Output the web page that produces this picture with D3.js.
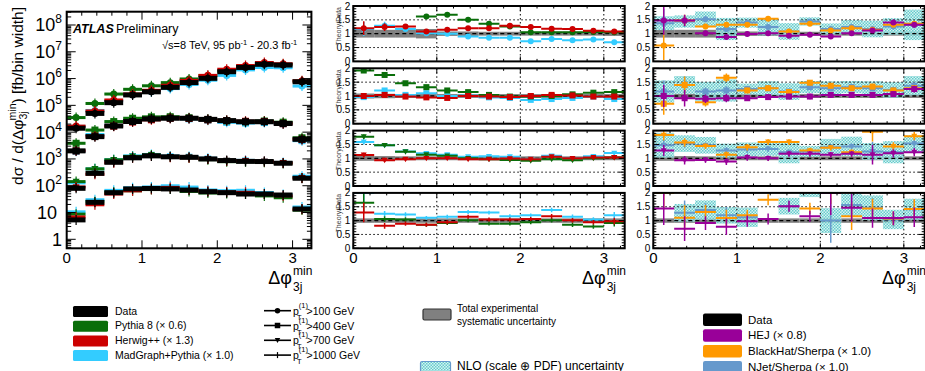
<!DOCTYPE html>
<html>
<head>
<meta charset="utf-8">
<title>Delta phi 3j min</title>
<script src="https://d3js.org/d3.v7.min.js"></script>
<style>
  body { margin: 0; background: #fff; }
  svg { font-family: "Liberation Sans", Arial, Helvetica, sans-serif; }
</style>
</head>
<body>
<div id="chart"></div>
<script>
// ---- data ----
const binCentres = [0.125, 0.375, 0.625, 0.875, 1.125, 1.375, 1.625, 1.875, 2.125, 2.375, 2.625, 2.875, 3.125];
const binHalf = 0.125;

const ptLabels = ["100", "400", "700", "1000"];
const ptShapes = ["circle", "square", "triangle", "plus"];

// measured cross sections [fb/bin width], one row per pT cut
const dataXs = [
  [1.4e4, 5.0e4, 1.26e5, 2.45e5, 3.2e5, 4.7e5, 7.1e5, 1.02e6, 1.8e6, 2.6e6, 3.4e6, 3.2e6, 7.6e5],
  [2.0e3, 6.8e3, 1.7e4, 2.5e4, 3.1e4, 3.3e4, 3.3e4, 3.0e4, 2.7e4, 2.45e4, 2.45e4, 2.1e4, 5.4e3],
  [80, 290, 750, 1100, 1300, 1200, 1150, 1000, 870, 810, 800, 690, 190],
  [5.3, 24, 55, 76, 79, 76, 69, 60, 55, 49, 49, 45, 13.5]
];

// Theory/Data, LO generators (already scaled)
const pythiaRatio = [
  [2.5, 2.35, 2.1, 1.62, 1.68, 1.5, 1.36, 1.26, 1.05, 1.05, 1.05, 1.06, 1.05],
  [1.92, 1.76, 1.46, 1.32, 1.2, 1.14, 1.04, 0.98, 0.98, 1.0, 1.06, 1.12, 1.14],
  [1.78, 1.47, 1.24, 1.13, 1.09, 1.0, 0.97, 0.94, 0.91, 0.97, 0.93, 1.0, 1.03],
  [1.64, 1.06, 1.04, 0.85, 0.91, 1.01, 0.89, 0.89, 0.94, 1.01, 0.85, 0.79, 0.91]
];
const herwigRatio = [
  [1.2, 1.24, 1.26, 1.08, 1.14, 1.2, 1.2, 1.29, 1.24, 1.18, 1.17, 1.11, 1.08],
  [1.0, 1.04, 0.98, 0.95, 0.93, 1.0, 0.98, 0.96, 1.0, 1.04, 1.02, 0.98, 0.98],
  [1.12, 0.93, 0.97, 1.0, 1.0, 0.97, 0.97, 0.99, 0.97, 1.06, 1.0, 1.03, 1.03],
  [1.29, 0.81, 0.89, 0.85, 0.94, 1.14, 1.04, 1.04, 1.06, 1.16, 1.01, 0.94, 0.98]
];
const madgraphRatio = [
  [1.17, 1.29, 1.17, 1.02, 1.0, 0.9, 0.85, 0.85, 0.73, 0.81, 0.76, 0.79, 0.69],
  [0.96, 1.2, 1.04, 1.1, 1.0, 1.02, 0.95, 0.93, 0.86, 0.89, 0.93, 0.98, 0.89],
  [1.59, 1.47, 1.25, 1.18, 1.13, 1.06, 1.07, 1.06, 0.97, 1.09, 1.0, 1.07, 1.19],
  [2.0, 1.25, 1.22, 1.1, 1.14, 1.31, 1.29, 1.16, 1.19, 1.38, 1.14, 1.04, 1.19]
];
const mcStatErr = [
  [0.25, 0.14, 0.05, 0.03, 0.03, 0.02, 0.02, 0.02, 0.02, 0.02, 0.02, 0.02, 0.03],
  [0.06, 0.06, 0.04, 0.04, 0.03, 0.03, 0.03, 0.03, 0.03, 0.03, 0.03, 0.03, 0.04],
  [0.08, 0.06, 0.05, 0.04, 0.04, 0.04, 0.04, 0.04, 0.04, 0.05, 0.05, 0.05, 0.06],
  [0.35, 0.1, 0.08, 0.07, 0.07, 0.07, 0.07, 0.07, 0.07, 0.08, 0.08, 0.08, 0.12]
];

// total experimental systematic (half width around 1)
const systUnc = [
  [0.14, 0.14, 0.14, 0.17, 0.08, 0.08, 0.07, 0.07, 0.07, 0.07, 0.07, 0.07, 0.08],
  [0.09, 0.08, 0.07, 0.07, 0.07, 0.07, 0.07, 0.07, 0.07, 0.07, 0.07, 0.07, 0.07],
  [0.09, 0.08, 0.07, 0.07, 0.07, 0.07, 0.07, 0.07, 0.07, 0.07, 0.07, 0.07, 0.07],
  [0.08, 0.08, 0.08, 0.08, 0.08, 0.08, 0.08, 0.08, 0.08, 0.08, 0.08, 0.08, 0.08]
];

// Theory/Data, NLO
const hejRatio = [
  [1.48, 1.48, 1.02, 0.88, 0.99, 1.02, 0.93, 0.96, 0.9, 1.02, 1.12, 1.4, 1.32],
  [1.0, 0.92, 0.9, 0.92, 0.92, 0.96, 0.98, 0.98, 1.04, 1.04, 1.04, 1.07, 1.25],
  [1.28, 0.93, 0.94, 0.88, 1.03, 1.0, 1.16, 1.16, 1.13, 1.16, 1.13, 1.18, 1.22],
  [1.44, 0.71, 0.91, 0.78, 0.98, 1.06, 1.52, 1.16, 2.0, 1.46, 1.09, 1.09, 1.12]
];
const blackhatRatio = [
  [0.57, 1.48, 1.26, 1.32, 1.32, 1.54, 1.08, 1.36, 1.12, 1.2, 1.14, 1.32, 1.36],
  [0.72, 1.4, 0.77, 1.66, 1.2, 1.28, 1.14, 1.48, 1.37, 1.28, 1.34, 1.2, 1.28],
  [1.84, 1.57, 1.44, 1.13, 1.4, 1.59, 1.59, 1.28, 1.38, 1.22, 1.96, 1.43, 1.8],
  [2.0, 1.1, 1.31, 1.09, 1.19, 1.75, 2.3, 1.44, 2.4, 1.16, 1.44, 1.08, 1.42]
];
const njetRatio = [
  [1.38, 1.44, 1.52, 1.17, 1.4, 1.24, 1.08, 1.44, 1.17, 1.24, 1.17, 1.26, 1.32],
  [1.16, 1.4, 1.16, 1.2, 1.25, 1.28, 1.16, 1.32, 1.28, 1.32, 1.28, 1.22, 1.37],
  [1.47, 1.53, 1.47, 1.28, 1.32, 1.34, 1.22, 1.25, 1.4, 1.43, 1.25, 1.22, 1.53],
  [2.5, 1.28, 1.38, 1.19, 1.12, 2.6, 1.52, 2.2, 1.0, 1.56, 1.46, 1.04, 1.41]
];
const nloStatErr = [
  [0.52, 0.2, 0.1, 0.08, 0.08, 0.06, 0.08, 0.06, 0.06, 0.06, 0.06, 0.06, 0.1],
  [0.4, 0.3, 0.15, 0.15, 0.1, 0.1, 0.1, 0.1, 0.1, 0.1, 0.1, 0.1, 0.12],
  [0.2, 0.15, 0.1, 0.12, 0.12, 0.1, 0.1, 0.1, 0.1, 0.1, 0.35, 0.15, 0.15],
  [0.6, 0.45, 0.25, 0.3, 0.2, 0.2, 0.2, 0.2, 0.8, 0.5, 0.35, 0.25, 0.35]
];
// NLO scale+PDF band half width around NJet
const nloUnc = [
  [0.25, 0.22, 0.28, 0.4, 0.18, 0.3, 0.3, 0.15, 0.2, 0.25, 0.3, 0.3, 0.55],
  [0.4, 0.32, 0.35, 0.4, 0.2, 0.25, 0.3, 0.22, 0.25, 0.22, 0.25, 0.28, 0.35],
  [0.45, 0.3, 0.3, 0.25, 0.25, 0.25, 0.4, 0.2, 0.3, 0.35, 0.3, 0.4, 0.3],
  [0.3, 0.32, 0.35, 0.3, 0.35, 0.3, 0.3, 0.35, 0.45, 0.4, 0.45, 0.35, 0.38]
];

const xTickLabels = ["0", "1", "2", "3"];
const ratioTickLabels = ["0", "0.5", "1", "1.5", "2"];

// ---- styles ----
const colData = "#000000", colPythia = "#0a6e0a", colHerwig = "#cc0000", colMadgraph = "#33ccff";
const colHej = "#990099", colBlackhat = "#ff9900", colNjet = "#6699cc", colSyst = "#808080";

const W = 925, H = 371;
const svg = d3.select("#chart").append("svg").attr("width", W).attr("height", H);

const defs = svg.append("defs");
const pat = defs.append("pattern").attr("id", "nlohatch").attr("patternUnits", "userSpaceOnUse")
  .attr("width", 3).attr("height", 3);
pat.append("rect").attr("width", 3).attr("height", 3).attr("fill", "#c8eeee").attr("opacity", 0.75);
pat.append("rect").attr("width", 1.5).attr("height", 1.5).attr("fill", "#66cccc");
pat.append("rect").attr("x", 1.5).attr("y", 1.5).attr("width", 1.5).attr("height", 1.5).attr("fill", "#66cccc");

// ---- helpers ----
function marker(g, shape, cx, cy, s, col) {
  if (shape === "circle") {
    g.append("circle").attr("cx", cx).attr("cy", cy).attr("r", s / 2).attr("fill", col);
  } else if (shape === "square") {
    g.append("rect").attr("x", cx - s / 2).attr("y", cy - s / 2).attr("width", s).attr("height", s).attr("fill", col);
  } else if (shape === "triangle") {
    g.append("path").attr("d", `M${cx - s / 2},${cy - s * 0.4}L${cx + s / 2},${cy - s * 0.4}L${cx},${cy + s * 0.5}Z`)
      .attr("fill", col);
  }
}

function frame(g, xs, ys, xMaj, xMin, yMaj, yMin, len) {
  const [x0, x1] = xs.range();
  const [y1, y0] = ys.range();
  const t = g.append("g").attr("stroke", "#000").attr("stroke-width", 1);
  xMaj.forEach(v => {
    t.append("line").attr("x1", xs(v)).attr("x2", xs(v)).attr("y1", y1).attr("y2", y1 - len.xMaj);
    t.append("line").attr("x1", xs(v)).attr("x2", xs(v)).attr("y1", y0).attr("y2", y0 + len.xMaj);
  });
  xMin.forEach(v => {
    t.append("line").attr("x1", xs(v)).attr("x2", xs(v)).attr("y1", y1).attr("y2", y1 - len.xMin);
    t.append("line").attr("x1", xs(v)).attr("x2", xs(v)).attr("y1", y0).attr("y2", y0 + len.xMin);
  });
  yMaj.forEach(v => {
    t.append("line").attr("x1", x0).attr("x2", x0 + len.yMaj).attr("y1", ys(v)).attr("y2", ys(v));
    t.append("line").attr("x1", x1).attr("x2", x1 - len.yMaj).attr("y1", ys(v)).attr("y2", ys(v));
  });
  yMin.forEach(v => {
    t.append("line").attr("x1", x0).attr("x2", x0 + len.yMin).attr("y1", ys(v)).attr("y2", ys(v));
    t.append("line").attr("x1", x1).attr("x2", x1 - len.yMin).attr("y1", ys(v)).attr("y2", ys(v));
  });
  g.append("rect").attr("x", x0).attr("y", y0).attr("width", x1 - x0).attr("height", y1 - y0)
    .attr("fill", "none").attr("stroke", "#000").attr("stroke-width", 2);
}

function phiTitle(g, xRight, y) {
  // "Δφ" with stacked superscript "min" and subscript "3j", right aligned at xRight
  const supW = 20;
  const t = g.append("text").attr("x", xRight - supW).attr("y", y).attr("text-anchor", "end")
    .attr("font-size", 18).text("\u0394\u03c6");
  g.append("text").attr("x", xRight - supW + 1).attr("y", y - 9).attr("font-size", 12).text("min");
  g.append("text").attr("x", xRight - supW + 1).attr("y", y + 7).attr("font-size", 12).text("3j");
  return t;
}

const xMinorVals = d3.range(0, 3.25, 0.2).filter(v => Math.abs(v - Math.round(v)) > 1e-6);
const xMajorVals = xTickLabels.map(Number);

// ---- main (log) panel ----
const main = { x0: 66.7, x1: 311.4, y0: 11.7, y1: 248.3 };
const xMain = d3.scaleLinear().domain([0, 3.25]).range([main.x0, main.x1]);
const yMain = d3.scaleLog().domain([Math.pow(10, -0.336), Math.pow(10, 8.496)]).range([main.y1, main.y0]);

const gMain = svg.append("g");
const mainClip = defs.append("clipPath").attr("id", "clipMain");
mainClip.append("rect").attr("x", main.x0).attr("y", main.y0).attr("width", main.x1 - main.x0).attr("height", main.y1 - main.y0);
const gMainPts = gMain.append("g").attr("clip-path", "url(#clipMain)");

const mainSeries = [
  { ratio: madgraphRatio, col: colMadgraph },
  { ratio: pythiaRatio, col: colPythia },
  { ratio: herwigRatio, col: colHerwig },
  { ratio: null, col: colData }
];
dataXs.forEach((row, k) => {
  mainSeries.forEach(s => {
    row.forEach((v, i) => {
      const val = s.ratio ? v * s.ratio[k][i] : v;
      const cx = xMain(binCentres[i]), cy = yMain(val);
      gMainPts.append("rect")
        .attr("x", xMain(binCentres[i] - binHalf)).attr("y", cy - (s.ratio ? 1.5 : 2.5))
        .attr("width", xMain(binCentres[i] + binHalf) - xMain(binCentres[i] - binHalf))
        .attr("height", s.ratio ? 3 : 5).attr("fill", s.col);
      gMainPts.append("line").attr("x1", cx).attr("x2", cx).attr("y1", cy - 5).attr("y2", cy + 5)
        .attr("stroke", s.col).attr("stroke-width", 1.2);
      marker(gMainPts, ptShapes[k], cx, cy, ptShapes[k] === "circle" ? 7 : 7, s.col);
    });
  });
});

const yMajMain = d3.range(0, 9).map(e => Math.pow(10, e));
const yMinMain = [];
for (let e = -1; e <= 8; e++) for (let m = 2; m <= 9; m++) {
  const v = m * Math.pow(10, e);
  if (v > yMain.domain()[0] && v < yMain.domain()[1]) yMinMain.push(v);
}
frame(gMain, xMain, yMain, xMajorVals, xMinorVals, yMajMain, yMinMain, { xMaj: 8, xMin: 4, yMaj: 9, yMin: 4.5 });

yMajMain.forEach((v, e) => {
  const t = gMain.append("text").attr("x", 62).attr("y", yMain(v) + 6.5).attr("text-anchor", "end")
    .attr("font-size", 18);
  if (e === 0) t.text("1");
  else if (e === 1) { t.attr("x", 57).text("10"); }
  else {
    t.append("tspan").text("10");
    t.append("tspan").attr("font-size", 12).attr("dy", -8).text(String(e));
  }
});
xTickLabels.forEach(l => {
  gMain.append("text").attr("x", xMain(+l)).attr("y", 263).attr("text-anchor", "middle")
    .attr("font-size", 15).text(l);
});
phiTitle(gMain, 312, 284);

// y axis title
const yt = gMain.append("text").attr("transform", "translate(23,7) rotate(-90)")
  .attr("text-anchor", "end").attr("font-size", 15.5);
yt.append("tspan").text("d\u03c3 / d(\u0394\u03c6");
yt.append("tspan").attr("font-size", 10.5).attr("dy", 4).text("3j");
yt.append("tspan").attr("font-size", 10.5).attr("dx", -9).attr("dy", -11).text("min");
yt.append("tspan").attr("dy", 7).text(") [fb/bin width]");

gMain.append("text").attr("x", 73).attr("y", 33).attr("font-size", 12.5)
  .attr("font-weight", "bold").attr("font-style", "italic").text("ATLAS");
gMain.append("text").attr("x", 116).attr("y", 33).attr("font-size", 12.5).text("Preliminary");
const en = gMain.append("text").attr("x", 162).attr("y", 48.5).attr("font-size", 11);
en.append("tspan").text("\u221as=8 TeV, 95 pb");
en.append("tspan").attr("font-size", 7.5).attr("dy", -4).text("-1");
en.append("tspan").attr("dy", 4).text(" - 20.3 fb");
en.append("tspan").attr("font-size", 7.5).attr("dy", -4).text("-1");

// ---- ratio panels ----
const ratioTops = [6, 68.3, 130.6, 192.9];
const ratioH = 55.4;
const yMajRatio = ratioTickLabels.map(Number);
const yMinRatio = d3.range(0, 2.001, 0.1).filter(v => Math.abs(v * 2 - Math.round(v * 2)) > 1e-6);

function ratioPanel(id, x0, x1, k, series, withNlo, withTitle) {
  const top = ratioTops[k];
  const xs = d3.scaleLinear().domain([0, 3.25]).range([x0, x1]);
  const ys = d3.scaleLinear().domain([0, 2]).range([top + ratioH, top]);
  const g = svg.append("g");
  defs.append("clipPath").attr("id", id).append("rect")
    .attr("x", x0).attr("y", top).attr("width", x1 - x0).attr("height", ratioH);
  const gc = g.append("g").attr("clip-path", `url(#${id})`);

  // experimental systematic band
  binCentres.forEach((c, i) => {
    gc.append("rect").attr("x", xs(c - binHalf)).attr("width", xs(c + binHalf) - xs(c - binHalf))
      .attr("y", ys(1 + systUnc[k][i])).attr("height", ys(1 - systUnc[k][i]) - ys(1 + systUnc[k][i]))
      .attr("fill", colSyst);
  });
  if (withNlo) {
    binCentres.forEach((c, i) => {
      const lo = njetRatio[k][i] - nloUnc[k][i], hi = njetRatio[k][i] + nloUnc[k][i];
      gc.append("rect").attr("x", xs(c - binHalf)).attr("width", xs(c + binHalf) - xs(c - binHalf))
        .attr("y", ys(hi)).attr("height", ys(lo) - ys(hi)).attr("fill", "url(#nlohatch)");
    });
  }
  // grid
  [1, 2, 3].forEach(v => gc.append("line").attr("x1", xs(v)).attr("x2", xs(v)).attr("y1", top).attr("y2", top + ratioH)
    .attr("stroke", "#000").attr("stroke-width", 1).attr("stroke-dasharray", "1.5,2.5"));
  [0.5, 1.5].forEach(v => gc.append("line").attr("x1", x0).attr("x2", x1).attr("y1", ys(v)).attr("y2", ys(v))
    .attr("stroke", "#000").attr("stroke-width", 1).attr("stroke-dasharray", "1.5,2.5"));
  gc.append("line").attr("x1", x0).attr("x2", x1).attr("y1", ys(1)).attr("y2", ys(1))
    .attr("stroke", "#000").attr("stroke-width", 1.3).attr("stroke-dasharray", "4,3");

  series.forEach(s => {
    binCentres.forEach((c, i) => {
      const v = s.vals[k][i], e = s.err[k][i];
      const cx = xs(c), cy = ys(v);
      gc.append("line").attr("x1", xs(c - binHalf)).attr("x2", xs(c + binHalf)).attr("y1", cy).attr("y2", cy)
        .attr("stroke", s.col).attr("stroke-width", 2);
      gc.append("line").attr("x1", cx).attr("x2", cx).attr("y1", ys(v + e)).attr("y2", ys(v - e))
        .attr("stroke", s.col).attr("stroke-width", 1.5);
      marker(gc, ptShapes[k], cx, cy, 6, s.col);
    });
  });

  frame(g, xs, ys, xMajorVals, xMinorVals, yMajRatio, yMinRatio, { xMaj: 5, xMin: 2.5, yMaj: 6, yMin: 3 });
  ratioTickLabels.forEach(l => {
    g.append("text").attr("x", x0 - 3).attr("y", ys(+l) + 3.5).attr("text-anchor", "end")
      .attr("font-size", 10).text(l);
  });
  if (withTitle) {
    g.append("text").attr("transform", `translate(${x0 - 12},${top + 1}) rotate(-90)`)
      .attr("text-anchor", "end").attr("font-size", 7).attr("fill", "#444").text("Theory/Data");
  }
  if (k === 3) {
    xTickLabels.forEach(l => {
      g.append("text").attr("x", xs(+l)).attr("y", 263).attr("text-anchor", "middle")
        .attr("font-size", 15).text(l);
    });
    phiTitle(g, x1 + 1, 284);
  }
}

const loSeries = [
  { vals: madgraphRatio, err: mcStatErr, col: colMadgraph },
  { vals: pythiaRatio, err: mcStatErr, col: colPythia },
  { vals: herwigRatio, err: mcStatErr, col: colHerwig }
];
const nloSeries = [
  { vals: njetRatio, err: nloStatErr, col: colNjet },
  { vals: blackhatRatio, err: nloStatErr, col: colBlackhat },
  { vals: hejRatio, err: nloStatErr, col: colHej }
];
for (let k = 0; k < 4; k++) {
  ratioPanel("clipMid" + k, 353.3, 624.7, k, loSeries, false, true);
  ratioPanel("clipRgt" + k, 653.3, 924.7, k, nloSeries, true, false);
}

// ---- legends ----
const leg = svg.append("g").attr("font-size", 10.5);
const legLO = [["Data", colData], ["Pythia 8 (\u00d7 0.6)", colPythia], ["Herwig++ (\u00d7 1.3)", colHerwig],
  ["MadGraph+Pythia (\u00d7 1.0)", colMadgraph]];
legLO.forEach((d, i) => {
  const y = 306 + i * 14.7;
  leg.append("rect").attr("x", 73).attr("y", y).attr("width", 35).attr("height", 11).attr("rx", 1.5).attr("fill", d[1]);
  leg.append("text").attr("x", 115).attr("y", y + 8.5).text(d[0]);
});

ptLabels.forEach((p, i) => {
  const y = 310.7 + i * 14.8;
  leg.append("line").attr("x1", 264).attr("x2", 291).attr("y1", y).attr("y2", y).attr("stroke", "#000").attr("stroke-width", 1.6);
  if (ptShapes[i] === "plus") {
    leg.append("line").attr("x1", 277.5).attr("x2", 277.5).attr("y1", y - 3).attr("y2", y + 3).attr("stroke", "#000").attr("stroke-width", 1.2);
  } else {
    marker(leg, ptShapes[i], 277.5, y, 5.5, "#000");
  }
  const t = leg.append("text").attr("x", 293).attr("y", y + 4);
  t.append("tspan").text("p");
  t.append("tspan").attr("font-size", 7.5).attr("dy", -7).text("(1)");
  t.append("tspan").attr("font-size", 7.5).attr("dx", -11).attr("dy", 12).text("T");
  t.append("tspan").attr("dx", 5).attr("dy", -5).text(">" + p + " GeV");
});

leg.append("rect").attr("x", 423).attr("y", 309).attr("width", 28).attr("height", 11).attr("rx", 1.5)
  .attr("fill", colSyst).attr("stroke", "#333").attr("stroke-width", 1.2);
leg.append("text").attr("x", 457).attr("y", 311.5).attr("font-size", 10).text("Total experimental");
leg.append("text").attr("x", 457).attr("y", 324.5).attr("font-size", 10).text("systematic uncertainty");
leg.append("rect").attr("x", 420.5).attr("y", 361.5).attr("width", 30).attr("height", 12).attr("rx", 1.5)
  .attr("fill", "url(#nlohatch)").attr("stroke", colNjet).attr("stroke-width", 1.2);
leg.append("text").attr("x", 457).attr("y", 369.5).attr("font-size", 12).text("NLO (scale \u2295 PDF) uncertainty");

const legNLO = [["Data", colData], ["HEJ (\u00d7 0.8)", colHej], ["BlackHat/Sherpa (\u00d7 1.0)", colBlackhat],
  ["NJet/Sherpa (\u00d7 1.0)", colNjet]];
legNLO.forEach((d, i) => {
  const y = 313.5 + i * 15.8;
  leg.append("rect").attr("x", 703).attr("y", y).attr("width", 39).attr("height", 12.5).attr("rx", 2).attr("fill", d[1]);
  leg.append("text").attr("x", 748).attr("y", y + 10).attr("font-size", 11.5).text(d[0]);
});
</script>
</body>
</html>
